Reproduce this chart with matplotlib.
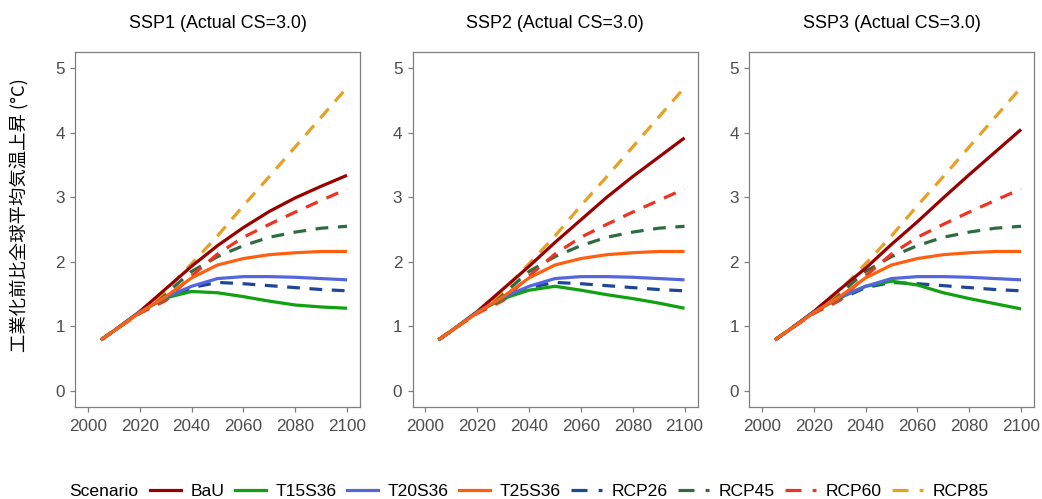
import matplotlib
matplotlib.use("Agg")
import matplotlib.pyplot as plt
from matplotlib.lines import Line2D

plt.rcParams['font.family'] = ['Liberation Sans', 'DejaVu Sans']

years = [2005, 2010, 2020, 2030, 2040, 2050, 2060, 2070, 2080, 2090, 2100]
panels = ["SSP1 (Actual CS=3.0)", "SSP2 (Actual CS=3.0)", "SSP3 (Actual CS=3.0)"]
scenarios = ["BaU", "T15S36", "T20S36", "T25S36", "RCP26", "RCP45", "RCP60", "RCP85"]

# shared RCP / target pathways
t20s36 = [0.79, 0.93, 1.22, 1.45, 1.62, 1.74, 1.77, 1.77, 1.76, 1.74, 1.72]
t25s36 = [0.79, 0.93, 1.21, 1.46, 1.75, 1.95, 2.05, 2.11, 2.14, 2.16, 2.16]
rcp26 = [0.79, 0.93, 1.21, 1.42, 1.60, 1.68, 1.66, 1.63, 1.60, 1.57, 1.55]
rcp45 = [0.79, 0.93, 1.22, 1.50, 1.85, 2.08, 2.25, 2.38, 2.46, 2.52, 2.55]
rcp60 = [0.79, 0.93, 1.20, 1.40, 1.78, 2.12, 2.38, 2.58, 2.77, 2.95, 3.13]
rcp85 = [0.79, 0.93, 1.22, 1.55, 1.97, 2.40, 2.87, 3.32, 3.78, 4.24, 4.70]

# panel-specific pathways
bau_ssp1 = [0.79, 0.93, 1.23, 1.58, 1.93, 2.25, 2.53, 2.78, 2.99, 3.17, 3.34]
bau_ssp2 = [0.79, 0.93, 1.23, 1.58, 1.93, 2.30, 2.65, 3.00, 3.32, 3.62, 3.92]
bau_ssp3 = [0.79, 0.93, 1.23, 1.57, 1.90, 2.27, 2.62, 2.99, 3.35, 3.70, 4.05]
t15_ssp1 = [0.79, 0.93, 1.22, 1.44, 1.54, 1.52, 1.46, 1.39, 1.33, 1.30, 1.28]
t15_ssp2 = [0.79, 0.93, 1.22, 1.43, 1.56, 1.62, 1.56, 1.49, 1.43, 1.36, 1.28]
t15_ssp3 = [0.79, 0.93, 1.22, 1.44, 1.62, 1.70, 1.64, 1.52, 1.43, 1.35, 1.27]

bau = [bau_ssp1, bau_ssp2, bau_ssp3]
t15 = [t15_ssp1, t15_ssp2, t15_ssp3]

colors = {"BaU": "#990000", "T15S36": "#10A010", "T20S36": "#5566DD", "T25S36": "#FF6010",
          "RCP26": "#1F4598", "RCP45": "#2F6B40", "RCP60": "#EE3322", "RCP85": "#E8A020"}
dashed = {"RCP26", "RCP45", "RCP60", "RCP85"}

fig = plt.figure(figsize=(10.42, 4.99), dpi=100)
lefts = [75, 412.5, 749]
W, H = 285, 355
bottom = 499 - 407
lw = 2.3
grey = "#7F7F7F"
axes = []
for i, title in enumerate(panels):
    ax = fig.add_axes([lefts[i] / 1042, bottom / 499, W / 1042, H / 499])
    axes.append(ax)
    series = {"BaU": bau[i], "T15S36": t15[i], "T20S36": t20s36, "T25S36": t25s36,
              "RCP26": rcp26, "RCP45": rcp45, "RCP60": rcp60, "RCP85": rcp85}
    for name in scenarios:
        if name in dashed:
            ax.plot(years, series[name], color=colors[name], lw=lw, dashes=(4, 3),
                    solid_capstyle='butt', dash_capstyle='butt')
    for name in scenarios:
        if name not in dashed:
            ax.plot(years, series[name], color=colors[name], lw=lw, solid_capstyle='butt')
    ax.set_xlim(1995, 2105)
    ax.set_ylim(-0.25, 5.25)
    ax.set_xticks([2000, 2020, 2040, 2060, 2080, 2100])
    ax.set_yticks([0, 1, 2, 3, 4, 5])
    ax.tick_params(colors=grey, labelcolor="#4D4D4D", labelsize=12.3, length=3.8, width=0.9)
    ax.tick_params(axis='x', pad=4.5)
    ax.tick_params(axis='y', pad=3.5)
    for s in ax.spines.values():
        s.set_color(grey)
        s.set_linewidth(0.9)
    ax.set_title(title, fontsize=12.9, pad=17)

axes[0].set_ylabel("工業化前比全球平均気温上昇 (°C)", fontsize=13.2,
                   family=['Noto Sans CJK JP', 'DejaVu Sans'])
axes[0].yaxis.set_label_coords(-0.16, 0.54)

handles = []
for name in scenarios:
    if name in dashed:
        h = Line2D([], [], color=colors[name], lw=lw, dashes=(5, 3.5))
    else:
        h = Line2D([], [], color=colors[name], lw=lw)
    handles.append(h)

ly = 1 - 491 / 499
fig.text(69 / 1042, ly, "Scenario", fontsize=12.6, va='center', ha='left')
fig.legend(handles, scenarios, loc='center left', bbox_to_anchor=(150 / 1042, ly),
           ncol=8, frameon=False, fontsize=12.6, handlelength=1.77, handletextpad=0.57,
           columnspacing=0.57, borderaxespad=0, borderpad=0)

fig.savefig("out.png", dpi=100)
